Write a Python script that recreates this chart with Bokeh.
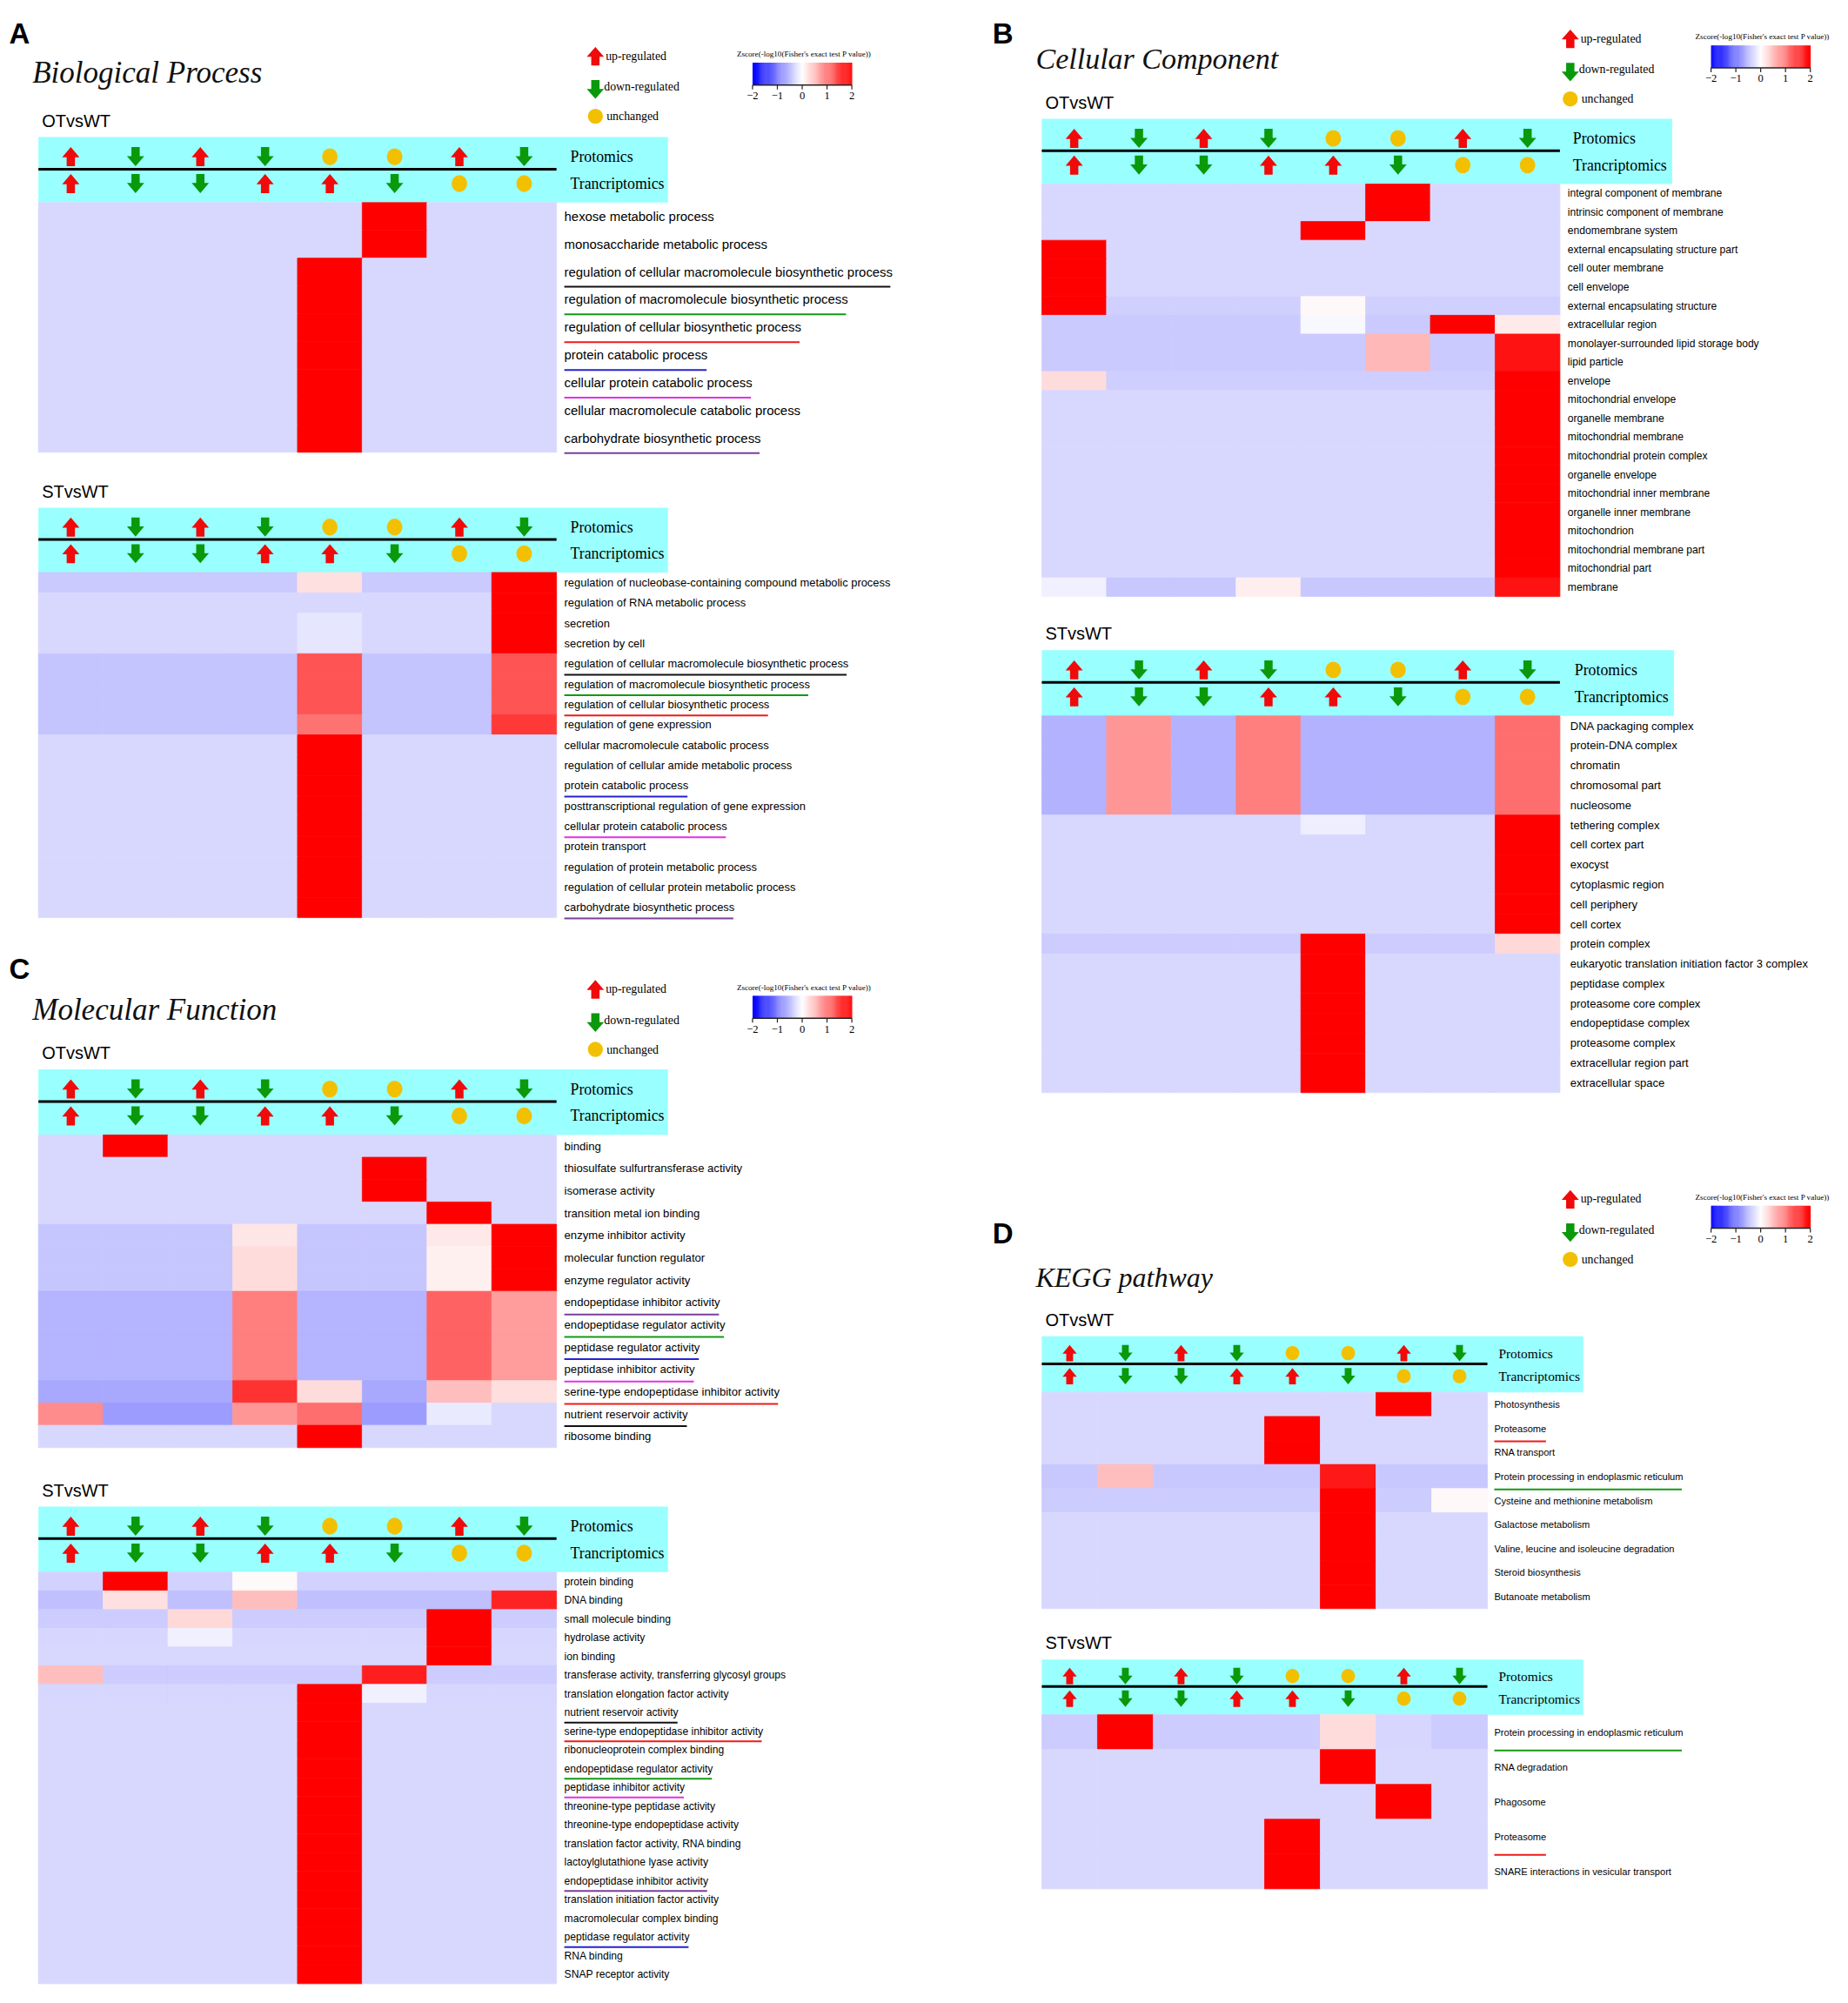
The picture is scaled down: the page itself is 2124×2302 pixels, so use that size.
import numpy as np
from bokeh.plotting import figure
from bokeh.models import ColumnDataSource, LinearColorMapper, Range1d
from bokeh.transform import transform
from bokeh.core.properties import value
from bokeh.embed import file_html
from bokeh.resources import INLINE

# ======================= DATA =======================
prot_states = ["up", "down", "up", "down", "unchanged", "unchanged", "up", "down"]
trans_states = ["up", "down", "down", "up", "up", "down", "unchanged", "unchanged"]
legend_labels = ["up-regulated", "down-regulated", "unchanged"]
colorbar_title = "Zscore(-log10(Fisher's exact test P value))"
colorbar_ticks = [-2, -1, 0, 1, 2]
colorbar_tick_labels = ["\u22122", "\u22121", "0", "1", "2"]
row_names = ["Protomics", "Trancriptomics"]

# ---- A: Biological Process ----
A_OT_labels = ["hexose metabolic process", "monosaccharide metabolic process",
               "regulation of cellular macromolecule biosynthetic process",
               "regulation of macromolecule biosynthetic process",
               "regulation of cellular biosynthetic process", "protein catabolic process",
               "cellular protein catabolic process", "cellular macromolecule catabolic process",
               "carbohydrate biosynthetic process"]
A_OT_values = [
    [-0.3, -0.3, -0.3, -0.3, -0.3, 2.0, -0.3, -0.3],
    [-0.3, -0.3, -0.3, -0.3, -0.3, 2.0, -0.3, -0.3],
    [-0.3, -0.3, -0.3, -0.3, 2.0, -0.3, -0.3, -0.3],
    [-0.3, -0.3, -0.3, -0.3, 2.0, -0.3, -0.3, -0.3],
    [-0.3, -0.3, -0.3, -0.3, 2.0, -0.3, -0.3, -0.3],
    [-0.3, -0.3, -0.3, -0.3, 2.0, -0.3, -0.3, -0.3],
    [-0.3, -0.3, -0.3, -0.3, 2.0, -0.3, -0.3, -0.3],
    [-0.3, -0.3, -0.3, -0.3, 2.0, -0.3, -0.3, -0.3],
    [-0.3, -0.3, -0.3, -0.3, 2.0, -0.3, -0.3, -0.3],
]
A_OT_underlines = {2: "black", 3: "green", 4: "red", 5: "blue", 6: "magenta", 8: "purple"}

A_ST_labels = ["regulation of nucleobase-containing compound metabolic process",
               "regulation of RNA metabolic process", "secretion", "secretion by cell",
               "regulation of cellular macromolecule biosynthetic process",
               "regulation of macromolecule biosynthetic process",
               "regulation of cellular biosynthetic process", "regulation of gene expression",
               "cellular macromolecule catabolic process",
               "regulation of cellular amide metabolic process", "protein catabolic process",
               "posttranscriptional regulation of gene expression",
               "cellular protein catabolic process", "protein transport",
               "regulation of protein metabolic process",
               "regulation of cellular protein metabolic process",
               "carbohydrate biosynthetic process"]
A_ST_values = [
    [-0.42, -0.42, -0.42, -0.42, 0.24, -0.42, -0.42, 2.0],
    [-0.3, -0.3, -0.3, -0.3, -0.3, -0.3, -0.3, 2.0],
    [-0.3, -0.3, -0.3, -0.3, -0.2, -0.3, -0.3, 2.0],
    [-0.3, -0.3, -0.3, -0.3, -0.2, -0.3, -0.3, 2.0],
    [-0.46, -0.46, -0.46, -0.46, 1.33, -0.46, -0.46, 1.33],
    [-0.46, -0.46, -0.46, -0.46, 1.33, -0.46, -0.46, 1.33],
    [-0.46, -0.46, -0.46, -0.46, 1.33, -0.46, -0.46, 1.33],
    [-0.46, -0.46, -0.46, -0.46, 1.10, -0.46, -0.46, 1.55],
    [-0.3, -0.3, -0.3, -0.3, 2.0, -0.3, -0.3, -0.3],
    [-0.3, -0.3, -0.3, -0.3, 2.0, -0.3, -0.3, -0.3],
    [-0.3, -0.3, -0.3, -0.3, 2.0, -0.3, -0.3, -0.3],
    [-0.3, -0.3, -0.3, -0.3, 2.0, -0.3, -0.3, -0.3],
    [-0.3, -0.3, -0.3, -0.3, 2.0, -0.3, -0.3, -0.3],
    [-0.3, -0.3, -0.3, -0.3, 2.0, -0.3, -0.3, -0.3],
    [-0.3, -0.3, -0.3, -0.3, 2.0, -0.3, -0.3, -0.3],
    [-0.3, -0.3, -0.3, -0.3, 2.0, -0.3, -0.3, -0.3],
    [-0.3, -0.3, -0.3, -0.3, 2.0, -0.3, -0.3, -0.3],
]
A_ST_underlines = {4: "black", 5: "green", 6: "red", 10: "blue", 12: "magenta", 16: "purple"}

# ---- B: Cellular Component ----
B_OT_labels = ["integral component of membrane", "intrinsic component of membrane",
               "endomembrane system", "external encapsulating structure part",
               "cell outer membrane", "cell envelope", "external encapsulating structure",
               "extracellular region", "monolayer-surrounded lipid storage body",
               "lipid particle", "envelope", "mitochondrial envelope", "organelle membrane",
               "mitochondrial membrane", "mitochondrial protein complex", "organelle envelope",
               "mitochondrial inner membrane", "organelle inner membrane", "mitochondrion",
               "mitochondrial membrane part", "mitochondrial part", "membrane"]
B_OT_values = [
    [-0.3, -0.3, -0.3, -0.3, -0.3, 2.0, -0.3, -0.3],
    [-0.3, -0.3, -0.3, -0.3, -0.3, 2.0, -0.3, -0.3],
    [-0.3, -0.3, -0.3, -0.3, 2.0, -0.3, -0.3, -0.3],
    [2.0, -0.3, -0.3, -0.3, -0.3, -0.3, -0.3, -0.3],
    [2.0, -0.3, -0.3, -0.3, -0.3, -0.3, -0.3, -0.3],
    [2.0, -0.3, -0.3, -0.3, -0.3, -0.3, -0.3, -0.3],
    [2.0, -0.36, -0.36, -0.36, 0.06, -0.36, -0.36, -0.36],
    [-0.41, -0.41, -0.41, -0.41, -0.06, -0.41, 2.0, 0.16],
    [-0.41, -0.41, -0.41, -0.41, -0.41, 0.55, -0.41, 1.85],
    [-0.41, -0.41, -0.41, -0.41, -0.41, 0.55, -0.41, 1.85],
    [0.27, -0.39, -0.39, -0.39, -0.39, -0.39, -0.39, 2.0],
    [-0.3, -0.3, -0.3, -0.3, -0.3, -0.3, -0.3, 2.0],
    [-0.3, -0.3, -0.3, -0.3, -0.3, -0.3, -0.3, 2.0],
    [-0.3, -0.3, -0.3, -0.3, -0.3, -0.3, -0.3, 2.0],
    [-0.3, -0.3, -0.3, -0.3, -0.3, -0.3, -0.3, 2.0],
    [-0.3, -0.3, -0.3, -0.3, -0.3, -0.3, -0.3, 2.0],
    [-0.3, -0.3, -0.3, -0.3, -0.3, -0.3, -0.3, 2.0],
    [-0.3, -0.3, -0.3, -0.3, -0.3, -0.3, -0.3, 2.0],
    [-0.3, -0.3, -0.3, -0.3, -0.3, -0.3, -0.3, 2.0],
    [-0.3, -0.3, -0.3, -0.3, -0.3, -0.3, -0.3, 2.0],
    [-0.3, -0.3, -0.3, -0.3, -0.3, -0.3, -0.3, 2.0],
    [-0.12, -0.43, -0.43, 0.13, -0.43, -0.43, -0.43, 1.85],
]
B_OT_underlines = {}

B_ST_labels = ["DNA packaging complex", "protein-DNA complex", "chromatin", "chromosomal part",
               "nucleosome", "tethering complex", "cell cortex part", "exocyst",
               "cytoplasmic region", "cell periphery", "cell cortex", "protein complex",
               "eukaryotic translation initiation factor 3 complex", "peptidase complex",
               "proteasome core complex", "endopeptidase complex", "proteasome complex",
               "extracellular region part", "extracellular space"]
B_ST_values = [
    [-0.6, 0.82, -0.6, 1.0, -0.6, -0.6, -0.6, 1.14],
    [-0.6, 0.82, -0.6, 1.0, -0.6, -0.6, -0.6, 1.14],
    [-0.6, 0.82, -0.6, 1.0, -0.6, -0.6, -0.6, 1.14],
    [-0.6, 0.82, -0.6, 1.0, -0.6, -0.6, -0.6, 1.14],
    [-0.6, 0.82, -0.6, 1.0, -0.6, -0.6, -0.6, 1.14],
    [-0.3, -0.3, -0.3, -0.3, -0.13, -0.3, -0.3, 2.0],
    [-0.3, -0.3, -0.3, -0.3, -0.3, -0.3, -0.3, 2.0],
    [-0.3, -0.3, -0.3, -0.3, -0.3, -0.3, -0.3, 2.0],
    [-0.3, -0.3, -0.3, -0.3, -0.3, -0.3, -0.3, 2.0],
    [-0.3, -0.3, -0.3, -0.3, -0.3, -0.3, -0.3, 2.0],
    [-0.3, -0.3, -0.3, -0.3, -0.3, -0.3, -0.3, 2.0],
    [-0.4, -0.4, -0.4, -0.4, 2.0, -0.4, -0.4, 0.31],
    [-0.3, -0.3, -0.3, -0.3, 2.0, -0.3, -0.3, -0.3],
    [-0.3, -0.3, -0.3, -0.3, 2.0, -0.3, -0.3, -0.3],
    [-0.3, -0.3, -0.3, -0.3, 2.0, -0.3, -0.3, -0.3],
    [-0.3, -0.3, -0.3, -0.3, 2.0, -0.3, -0.3, -0.3],
    [-0.3, -0.3, -0.3, -0.3, 2.0, -0.3, -0.3, -0.3],
    [-0.3, -0.3, -0.3, -0.3, 2.0, -0.3, -0.3, -0.3],
    [-0.3, -0.3, -0.3, -0.3, 2.0, -0.3, -0.3, -0.3],
]
B_ST_underlines = {}

# ---- C: Molecular Function ----
C_OT_labels = ["binding", "thiosulfate sulfurtransferase activity", "isomerase activity",
               "transition metal ion binding", "enzyme inhibitor activity",
               "molecular function regulator", "enzyme regulator activity",
               "endopeptidase inhibitor activity", "endopeptidase regulator activity",
               "peptidase regulator activity", "peptidase inhibitor activity",
               "serine-type endopeptidase inhibitor activity", "nutrient reservoir activity",
               "ribosome binding"]
C_OT_values = [
    [-0.3, 2.0, -0.3, -0.3, -0.3, -0.3, -0.3, -0.3],
    [-0.3, -0.3, -0.3, -0.3, -0.3, 2.0, -0.3, -0.3],
    [-0.3, -0.3, -0.3, -0.3, -0.3, 2.0, -0.3, -0.3],
    [-0.3, -0.3, -0.3, -0.3, -0.3, -0.3, 2.0, -0.3],
    [-0.45, -0.45, -0.45, 0.2, -0.45, -0.45, 0.18, 2.0],
    [-0.45, -0.45, -0.45, 0.28, -0.45, -0.45, 0.12, 2.0],
    [-0.45, -0.45, -0.45, 0.28, -0.45, -0.45, 0.12, 2.0],
    [-0.58, -0.58, -0.58, 1.0, -0.58, -0.58, 1.22, 0.78],
    [-0.58, -0.58, -0.58, 1.0, -0.58, -0.58, 1.22, 0.78],
    [-0.58, -0.58, -0.58, 1.0, -0.58, -0.58, 1.22, 0.78],
    [-0.58, -0.58, -0.58, 1.0, -0.58, -0.58, 1.22, 0.78],
    [-0.68, -0.68, -0.68, 1.6, 0.27, -0.68, 0.5, 0.26],
    [0.9, -0.78, -0.78, 0.82, 1.14, -0.78, -0.16, -0.31],
    [-0.3, -0.3, -0.3, -0.3, 2.0, -0.3, -0.3, -0.3],
]
C_OT_underlines = {7: "purple", 8: "green", 9: "blue", 10: "magenta", 11: "red", 12: "black"}

C_ST_labels = ["protein binding", "DNA binding", "small molecule binding", "hydrolase activity",
               "ion binding", "transferase activity, transferring glycosyl groups",
               "translation elongation factor activity", "nutrient reservoir activity",
               "serine-type endopeptidase inhibitor activity",
               "ribonucleoprotein complex binding", "endopeptidase regulator activity",
               "peptidase inhibitor activity", "threonine-type peptidase activity",
               "threonine-type endopeptidase activity", "translation factor activity, RNA binding",
               "lactoylglutathione lyase activity", "endopeptidase inhibitor activity",
               "translation initiation factor activity", "macromolecular complex binding",
               "peptidase regulator activity", "RNA binding", "SNAP receptor activity"]
C_ST_values = [
    [-0.35, 2.0, -0.35, 0.04, -0.35, -0.35, -0.35, -0.35],
    [-0.5, 0.24, -0.5, 0.5, -0.5, -0.5, -0.5, 1.73],
    [-0.4, -0.4, 0.31, -0.4, -0.4, -0.4, 2.0, -0.4],
    [-0.32, -0.32, -0.12, -0.32, -0.32, -0.32, 2.0, -0.32],
    [-0.3, -0.3, -0.3, -0.3, -0.3, -0.3, 2.0, -0.3],
    [0.5, -0.4, -0.4, -0.4, -0.4, 1.76, -0.4, -0.4],
    [-0.32, -0.32, -0.32, -0.32, 2.0, -0.12, -0.32, -0.32],
    [-0.3, -0.3, -0.3, -0.3, 2.0, -0.3, -0.3, -0.3],
    [-0.3, -0.3, -0.3, -0.3, 2.0, -0.3, -0.3, -0.3],
    [-0.3, -0.3, -0.3, -0.3, 2.0, -0.3, -0.3, -0.3],
    [-0.3, -0.3, -0.3, -0.3, 2.0, -0.3, -0.3, -0.3],
    [-0.3, -0.3, -0.3, -0.3, 2.0, -0.3, -0.3, -0.3],
    [-0.3, -0.3, -0.3, -0.3, 2.0, -0.3, -0.3, -0.3],
    [-0.3, -0.3, -0.3, -0.3, 2.0, -0.3, -0.3, -0.3],
    [-0.3, -0.3, -0.3, -0.3, 2.0, -0.3, -0.3, -0.3],
    [-0.3, -0.3, -0.3, -0.3, 2.0, -0.3, -0.3, -0.3],
    [-0.3, -0.3, -0.3, -0.3, 2.0, -0.3, -0.3, -0.3],
    [-0.3, -0.3, -0.3, -0.3, 2.0, -0.3, -0.3, -0.3],
    [-0.3, -0.3, -0.3, -0.3, 2.0, -0.3, -0.3, -0.3],
    [-0.3, -0.3, -0.3, -0.3, 2.0, -0.3, -0.3, -0.3],
    [-0.3, -0.3, -0.3, -0.3, 2.0, -0.3, -0.3, -0.3],
    [-0.3, -0.3, -0.3, -0.3, 2.0, -0.3, -0.3, -0.3],
]
C_ST_underlines = {7: "black", 8: "red", 10: "green", 11: "magenta", 16: "purple", 19: "blue"}

# ---- D: KEGG pathway ----
D_OT_labels = ["Photosynthesis", "Proteasome", "RNA transport",
               "Protein processing in endoplasmic reticulum",
               "Cysteine and methionine metabolism", "Galactose metabolism",
               "Valine, leucine and isoleucine degradation", "Steroid biosynthesis",
               "Butanoate metabolism"]
D_OT_values = [
    [-0.3, -0.3, -0.3, -0.3, -0.3, -0.3, 2.0, -0.3],
    [-0.3, -0.3, -0.3, -0.3, 2.0, -0.3, -0.3, -0.3],
    [-0.3, -0.3, -0.3, -0.3, 2.0, -0.3, -0.3, -0.3],
    [-0.43, 0.5, -0.43, -0.43, -0.43, 1.8, -0.43, -0.43],
    [-0.4, -0.4, -0.4, -0.4, -0.4, 2.0, -0.4, 0.05],
    [-0.3, -0.3, -0.3, -0.3, -0.3, 2.0, -0.3, -0.3],
    [-0.3, -0.3, -0.3, -0.3, -0.3, 2.0, -0.3, -0.3],
    [-0.3, -0.3, -0.3, -0.3, -0.3, 2.0, -0.3, -0.3],
    [-0.3, -0.3, -0.3, -0.3, -0.3, 2.0, -0.3, -0.3],
]
D_OT_underlines = {1: "red", 3: "green"}

D_ST_labels = ["Protein processing in endoplasmic reticulum", "RNA degradation", "Phagosome",
               "Proteasome", "SNARE interactions in vesicular transport"]
D_ST_values = [
    [-0.4, 2.0, -0.4, -0.4, -0.4, 0.27, -0.32, -0.4],
    [-0.3, -0.3, -0.3, -0.3, -0.3, 2.0, -0.3, -0.3],
    [-0.3, -0.3, -0.3, -0.3, -0.3, -0.3, 2.0, -0.3],
    [-0.3, -0.3, -0.3, -0.3, 2.0, -0.3, -0.3, -0.3],
    [-0.3, -0.3, -0.3, -0.3, 2.0, -0.3, -0.3, -0.3],
]
D_ST_underlines = {0: "green", 3: "red"}

# ======================= STYLE / LAYOUT =======================
W_PX, H_PX = 2108, 2286
IMG_W, IMG_H = 2124, 2302
SANS = "Liberation Sans"
SERIF = "Liberation Serif"
CYAN = "#99FFFF"
UP_COL = "#F00A0A"
DOWN_COL = "#0A990A"
UNCH_COL = "#F2C000"
LINE_COLS = {"black": "#111111", "green": "#139A13", "red": "#F01A1A", "blue": "#2323D0",
             "magenta": "#E62EE6", "purple": "#7A3F9A"}

# blue-white-red palette
n_pal = 256
pal = []
for t in np.linspace(0, 1, n_pal):
    if t < 0.5:
        f = t / 0.5
        r, g, b = 255 * f, 255 * f, 255
    else:
        f = (t - 0.5) / 0.5
        r, g, b = 255, 255 * (1 - f), 255 * (1 - f)
    pal.append("#%02x%02x%02x" % (int(round(r)), int(round(g)), int(round(b))))
mapper = LinearColorMapper(palette=pal, low=-2, high=2)

ARIAL_W = dict(zip("abcdefghijklmnopqrstuvwxyz",
                   [556, 556, 500, 556, 556, 278, 556, 556, 222, 222, 500, 222, 833, 556, 556,
                    556, 556, 333, 500, 278, 556, 500, 722, 500, 500, 500]))
ARIAL_W.update(dict(zip("ABCDEFGHIJKLMNOPQRSTUVWXYZ",
                        [667, 667, 722, 722, 667, 611, 778, 722, 278, 500, 667, 556, 833, 722,
                         778, 667, 778, 722, 667, 611, 722, 667, 944, 667, 667, 611])))
ARIAL_W.update({" ": 278, ",": 278, "-": 333, ".": 278})


def text_width(s, fs):
    return sum(ARIAL_W.get(c, 556) for c in s) * fs / 1000.0


blocks = [
    dict(labels=A_OT_labels, values=A_OT_values, ul=A_OT_underlines, sub="OTvsWT",
         x0=44, cw=75, band_top=158, heat_top=234, rh=32.1, band_right=773,
         label_fs=14.9, head_fs=17.8, mk=(20, 22), circ=(18, 19.5), label_dx=9, head_dx=16),
    dict(labels=A_ST_labels, values=A_ST_values, ul=A_ST_underlines, sub="STvsWT",
         x0=44, cw=75, band_top=587, heat_top=662, rh=23.5, band_right=773,
         label_fs=12.9, head_fs=17.8, mk=(20, 22), circ=(18, 19.5), label_dx=9, head_dx=16),
    dict(labels=B_OT_labels, values=B_OT_values, ul=B_OT_underlines, sub="OTvsWT",
         x0=1206, cw=75, band_top=137, heat_top=212.5, rh=21.7, band_right=1936,
         label_fs=12.1, head_fs=17.8, mk=(20, 22), circ=(18, 19), label_dx=9, head_dx=15),
    dict(labels=B_ST_labels, values=B_ST_values, ul=B_ST_underlines, sub="STvsWT",
         x0=1206, cw=75, band_top=752, heat_top=828, rh=22.95, band_right=1938,
         label_fs=13.0, head_fs=17.8, mk=(20, 22), circ=(18, 19), label_dx=12, head_dx=17),
    dict(labels=C_OT_labels, values=C_OT_values, ul=C_OT_underlines, sub="OTvsWT",
         x0=44, cw=75, band_top=1237, heat_top=1313, rh=25.85, band_right=773,
         label_fs=13.1, head_fs=17.8, mk=(20, 22), circ=(18, 19.5), label_dx=9, head_dx=16),
    dict(labels=C_ST_labels, values=C_ST_values, ul=C_ST_underlines, sub="STvsWT",
         x0=44, cw=75, band_top=1743, heat_top=1819, rh=21.65, band_right=773,
         label_fs=12.1, head_fs=17.8, mk=(20, 22), circ=(18, 19.5), label_dx=9, head_dx=16),
    dict(labels=D_OT_labels, values=D_OT_values, ul=D_OT_underlines, sub="OTvsWT",
         x0=1206, cw=64.5, band_top=1546, heat_top=1611, rh=27.8, band_right=1833,
         label_fs=11.1, head_fs=15.4, mk=(16.5, 19), circ=(16, 16.5), label_dx=8, head_dx=13),
    dict(labels=D_ST_labels, values=D_ST_values, ul=D_ST_underlines, sub="STvsWT",
         x0=1206, cw=64.5, band_top=1920, heat_top=1984, rh=40.3, band_right=1833,
         label_fs=11.1, head_fs=15.4, mk=(16.5, 19), circ=(16, 16.5), label_dx=8, head_dx=13),
]

panels = [
    dict(letter="A", lx=10, ly=38, title="Biological Process", tx=37, ty=84, tfs=35,
         ax=689, L=64.5, cb0=871, cb1=986),
    dict(letter="B", lx=1149, ly=38, title="Cellular Component", tx=1199, ty=67.5, tfs=34,
         ax=1818, L=44.5, cb0=1981, cb1=2096),
    dict(letter="C", lx=10, ly=1121, title="Molecular Function", tx=37, ty=1168, tfs=35,
         ax=689, L=1144.5, cb0=871, cb1=986),
    dict(letter="D", lx=1149, ly=1427, title="KEGG pathway", tx=1199, ty=1478, tfs=32,
         ax=1818, L=1387.5, cb0=1981, cb1=2096),
]

# ======================= FIGURE =======================
p = figure(width=W_PX, height=H_PX, x_range=Range1d(0, IMG_W), y_range=Range1d(IMG_H, 0),
           output_backend="svg", toolbar_location=None, x_axis_type=None, y_axis_type=None,
           min_border=0, outline_line_color=None, background_fill_color="white")
p.grid.visible = False


def arrow_poly(cx, cy, w, h, up=True):
    hh = h * 0.53
    sw = w * 0.48
    xs = [cx, cx + w / 2, cx + sw / 2, cx + sw / 2, cx - sw / 2, cx - sw / 2, cx - w / 2]
    if up:
        tip = cy - h / 2
        base = tip + hh
        end = cy + h / 2
    else:
        tip = cy + h / 2
        base = tip - hh
        end = cy - h / 2
    ys = [tip, base, base, end, end, base, base]
    return xs, ys


arrow_xs, arrow_ys, arrow_cols = [], [], []
circ_x, circ_y, circ_w, circ_h = [], [], [], []


def add_marker(state, cx, cy, mk, circ):
    if state == "unchanged":
        circ_x.append(cx)
        circ_y.append(cy)
        circ_w.append(circ[0])
        circ_h.append(circ[1])
    else:
        xs, ys = arrow_poly(cx, cy, mk[0], mk[1], up=(state == "up"))
        arrow_xs.append(xs)
        arrow_ys.append(ys)
        arrow_cols.append(UP_COL if state == "up" else DOWN_COL)


cells = dict(left=[], right=[], top=[], bottom=[], v=[])
for b in blocks:
    x0, cw, rh = b["x0"], b["cw"], b["rh"]
    ncol = len(prot_states)
    heat_right = x0 + ncol * cw
    band_h = b["heat_top"] - b["band_top"]
    # header band
    p.quad(left=[x0], right=[b["band_right"]], top=[b["band_top"]], bottom=[b["heat_top"]],
           fill_color=CYAN, line_color=None)
    div_y = b["band_top"] + 0.49 * band_h
    p.segment(x0=[x0], y0=[div_y], x1=[heat_right], y1=[div_y], line_color="black",
              line_width=3)
    y_p = b["band_top"] + 0.30 * band_h
    y_t = b["band_top"] + 0.71 * band_h
    for j in range(ncol):
        cx = x0 + (j + 0.5) * cw
        add_marker(prot_states[j], cx, y_p, b["mk"], b["circ"])
        add_marker(trans_states[j], cx, y_t, b["mk"], b["circ"])
    p.text(x=[heat_right + b["head_dx"]] * 2, y=[y_p, y_t], text=row_names,
           text_font=value(SERIF), text_font_size=value("%.1fpx" % b["head_fs"]),
           text_baseline="middle", text_align="left", text_color="black")
    # sub title
    p.text(x=[x0 + 4], y=[b["band_top"] - 19], text=[b["sub"]], text_font=value(SANS),
           text_font_size=value("20px"), text_baseline="middle", text_align="left",
           text_color="black")
    # cells
    for i, row in enumerate(b["values"]):
        for j, v in enumerate(row):
            cells["left"].append(x0 + j * cw)
            cells["right"].append(x0 + (j + 1) * cw)
            cells["top"].append(b["heat_top"] + i * rh)
            cells["bottom"].append(b["heat_top"] + (i + 1) * rh)
            cells["v"].append(v)
    # labels
    lx = heat_right + b["label_dx"]
    ly = [b["heat_top"] + (i + 0.5) * rh for i in range(len(b["labels"]))]
    p.text(x=[lx] * len(ly), y=ly, text=b["labels"], text_font=value(SANS),
           text_font_size=value("%.1fpx" % b["label_fs"]), text_baseline="middle",
           text_align="left", text_color="black")
    # underlines
    for i, col in b["ul"].items():
        uy = b["heat_top"] + (i + 1) * rh + 1.0
        wdt = text_width(b["labels"][i], b["label_fs"])
        p.segment(x0=[lx], y0=[uy], x1=[lx + wdt], y1=[uy], line_color=LINE_COLS[col],
                  line_width=2)

cell_src = ColumnDataSource(cells)
p.quad(left="left", right="right", top="top", bottom="bottom", source=cell_src,
       fill_color=transform("v", mapper), line_color=transform("v", mapper), line_width=0.8)

# panel-level decorations
cb_vals = np.linspace(-2, 2, 120)
for pn in panels:
    p.text(x=[pn["lx"]], y=[pn["ly"]], text=[pn["letter"]], text_font=value(SANS),
           text_font_style="bold", text_font_size=value("33px"), text_baseline="alphabetic",
           text_align="left", text_color="black")
    p.text(x=[pn["tx"]], y=[pn["ty"]], text=[pn["title"]], text_font=value(SERIF),
           text_font_style="italic", text_font_size=value("%dpx" % pn["tfs"]),
           text_baseline="alphabetic", text_align="left", text_color="#111111")
    L = pn["L"]
    ax = pn["ax"]
    add_marker("up", ax, L, (20, 21.5), (18, 18))
    add_marker("down", ax, L + 38.5, (20, 21.5), (18, 18))
    add_marker("unchanged", ax, L + 69.5, (20, 21.5), (17.5, 17.5))
    p.text(x=[ax + 12, ax + 10, ax + 13], y=[L - 0.5, L + 35.5, L + 69.5], text=legend_labels,
           text_font=value(SERIF), text_font_size=value("13.8px"), text_baseline="middle",
           text_align="left", text_color="black")
    # colour bar
    c0, c1 = pn["cb0"], pn["cb1"]
    ctop = L + 7.5
    cbot = ctop + 26
    step = (c1 - c0) / len(cb_vals)
    cb_src = ColumnDataSource(dict(left=[c0 + k * step for k in range(len(cb_vals))],
                                   right=[c0 + (k + 1) * step + 0.4 for k in range(len(cb_vals))],
                                   v=list(cb_vals)))
    p.quad(left="left", right="right", top=ctop, bottom=cbot, source=cb_src,
           fill_color=transform("v", mapper), line_color=None)
    p.segment(x0=[c0], y0=[cbot], x1=[c1], y1=[cbot], line_color="#222222", line_width=1.5)
    tx = [c0 + (t + 2) / 4 * (c1 - c0) for t in colorbar_ticks]
    p.segment(x0=tx, y0=[cbot] * len(tx), x1=tx, y1=[cbot + 5] * len(tx), line_color="#222222",
              line_width=1.2)
    p.text(x=tx, y=[cbot + 12.5] * len(tx), text=colorbar_tick_labels, text_font=value(SERIF),
           text_font_size=value("12.5px"), text_baseline="middle", text_align="center",
           text_color="black")
    p.text(x=[(c0 + c1) / 2 + 2], y=[ctop - 10], text=[colorbar_title], text_font=value(SERIF),
           text_font_size=value("9.1px"), text_baseline="middle", text_align="center",
           text_color="black")

p.patches(xs=arrow_xs, ys=arrow_ys, fill_color=arrow_cols, line_color=None)
p.ellipse(x=circ_x, y=circ_y, width=circ_w, height=circ_h, fill_color=UNCH_COL,
          line_color=None)

open("out.html", "w").write(file_html(p, INLINE))
